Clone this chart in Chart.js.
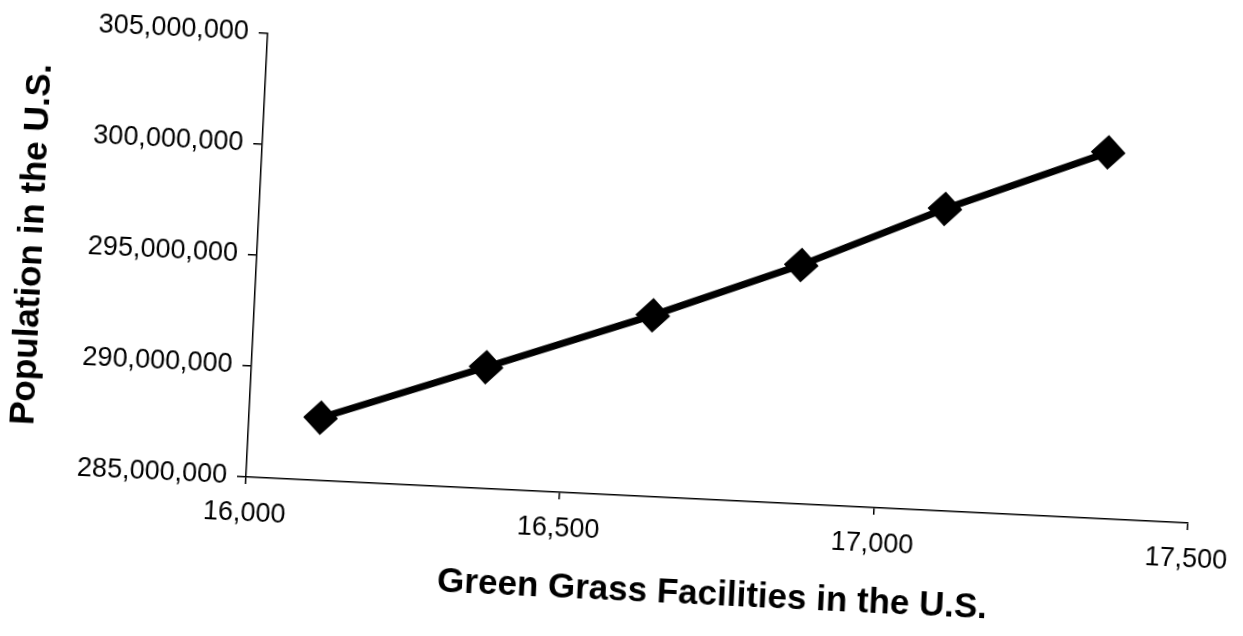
<!DOCTYPE html>
<html>
<head>
<meta charset="utf-8">
<script src="https://cdn.jsdelivr.net/npm/chart.js@4.4.1/dist/chart.umd.min.js"></script>
<style>
  html, body { margin: 0; padding: 0; background: #ffffff; overflow: hidden; }
  #wrap { position: absolute; left: 0; top: 0; width: 1243px; height: 636px; }
  #c { position: absolute; left: 0; top: 0; transform: rotate(2.8deg); transform-origin: 246px 477px; }
</style>
</head>
<body>
<div id="wrap"><canvas id="c" width="1243" height="636"></canvas></div>
<script>
// Data
const facilities = [16114, 16373, 16634, 16866, 17090, 17345];
const population = [287830000, 290470000, 293170000, 295760000, 298600000, 301500000];
const xTicks = [16000, 16500, 17000, 17500];
const yTicks = [285000000, 290000000, 295000000, 300000000, 305000000];
const xTitle = 'Green Grass Facilities in the U.S.';
const yTitle = 'Population in the U.S.';

const points = facilities.map((x, i) => ({ x: x, y: population[i] }));
const fmt = v => Number(v).toLocaleString('en-US');
const FONT = "'Liberation Sans', Arial, sans-serif";

new Chart(document.getElementById('c'), {
  type: 'scatter',
  data: {
    datasets: [{
      data: points,
      showLine: true,
      borderColor: '#000000',
      backgroundColor: '#000000',
      borderWidth: 7,
      pointStyle: 'rectRot',
      pointRadius: 16,
      pointHoverRadius: 16,
      pointBorderWidth: 2,
      tension: 0
    }]
  },
  options: {
    responsive: false,
    devicePixelRatio: 1,
    animation: false,
    layout: { padding: { left: 0, right: 49, top: 33, bottom: 0 } },
    plugins: { legend: { display: false }, tooltip: { enabled: false } },
    scales: {
      x: {
        type: 'linear',
        min: xTicks[0],
        max: xTicks[xTicks.length - 1],
        afterBuildTicks: s => { s.ticks = xTicks.map(v => ({ value: v })); },
        afterFit: s => { s.height = 159; },
        border: { display: true, color: '#000000', width: 1.5 },
        grid: { drawOnChartArea: false, drawTicks: true, tickLength: 7, color: '#000000', lineWidth: 1.5 },
        ticks: {
          callback: v => fmt(v),
          color: '#000000',
          font: { family: FONT, size: 27 },
          padding: 13,
          maxRotation: 0
        },
        title: {
          display: true,
          text: xTitle,
          color: '#000000',
          font: { family: FONT, size: 35, weight: 'bold' },
          padding: { top: 0, bottom: 43 }
        }
      },
      y: {
        type: 'linear',
        min: yTicks[0],
        max: yTicks[yTicks.length - 1],
        afterBuildTicks: s => { s.ticks = yTicks.map(v => ({ value: v })); },
        afterFit: s => { s.width = 246; },
        border: { display: true, color: '#000000', width: 1.5 },
        grid: { drawOnChartArea: false, drawTicks: true, tickLength: 9, color: '#000000', lineWidth: 1.5 },
        ticks: {
          callback: v => fmt(v),
          color: '#000000',
          font: { family: FONT, size: 27 },
          padding: 10
        },
        title: {
          display: true,
          text: yTitle,
          color: '#000000',
          font: { family: FONT, size: 35, weight: 'bold' },
          padding: { top: 0, bottom: 10 }
        }
      }
    }
  }
});
</script>
</body>
</html>
